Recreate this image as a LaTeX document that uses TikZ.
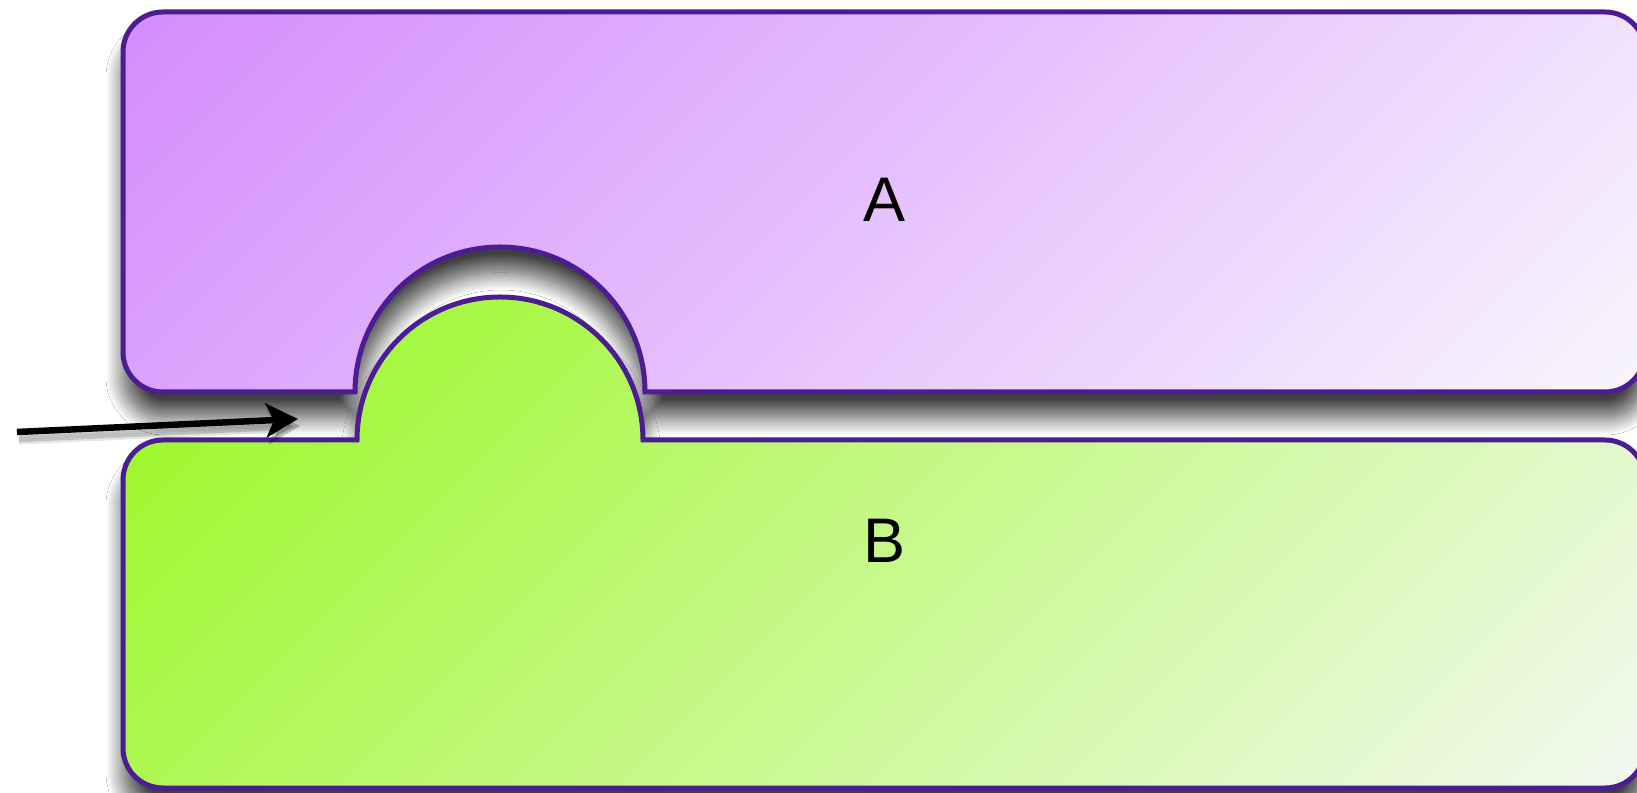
\documentclass[tikz,border=0pt]{standalone}
\usepackage{fontspec}
\setmainfont{Liberation Sans}
\usetikzlibrary{arrows.meta,shadows.blur}
\definecolor{strokec}{RGB}{76,28,146}
\definecolor{aA}{RGB}{212,140,253}
\definecolor{aB}{RGB}{248,246,253}
\definecolor{bA}{RGB}{152,248,30}
\definecolor{bB}{RGB}{243,249,242}
\tikzset{
  outline/.style={draw=strokec,line width=5pt},
  shadowed/.style={blur shadow={shadow xshift=1pt,shadow yshift=-25pt,shadow blur radius=18pt,shadow opacity=75,shadow blur steps=24}},
  lbl/.style={inner sep=0pt,font=\fontsize{63}{63}\selectfont},
  arr/.style={line width=6.5pt,-{Stealth[length=32pt,width=34pt,inset=8pt]}}
}
\def\pathA{(355,400) -- (163,400) arc[start angle=270,end angle=180,radius=40] -- (123,740) arc[start angle=180,end angle=90,radius=40] -- (1605,780) arc[start angle=90,end angle=0,radius=40] -- (1645,440) arc[start angle=0,end angle=-90,radius=40] -- (645,400) arc[start angle=0,end angle=180,radius=145] -- cycle}
\def\pathB{(163,352) -- (357,352) arc[start angle=180,end angle=0,radius=143] -- (1605,352) arc[start angle=90,end angle=0,radius=40] -- (1645,44) arc[start angle=0,end angle=-90,radius=40] -- (163,4) arc[start angle=270,end angle=180,radius=40] -- (123,312) arc[start angle=180,end angle=90,radius=40] -- cycle}
\begin{document}
\begin{tikzpicture}[x=1pt,y=1pt]
\fill[white] (0,0) rectangle (1637,792);
\useasboundingbox (0,0) rectangle (1637,792);
% shape A
\path[shadowed] \pathA;
\begin{scope}
  \clip \pathA;
  \begin{scope}[transform canvas={rotate around={-45:(884,590)}}]
    \shade[left color=aA,right color=aB] (211.5,-120) rectangle (1556.5,1300);
  \end{scope}
\end{scope}
\path[outline] \pathA;
% shape B
\path[shadowed] \pathB;
\begin{scope}
  \clip \pathB;
  \begin{scope}[transform canvas={rotate around={-45:(884,249.5)}}]
    \shade[left color=bA,right color=bB] (172.3,-500) rectangle (1595.7,1000);
  \end{scope}
\end{scope}
\path[outline] \pathB;
% labels
\node[lbl] (A) at (884,592) {A};
\node[lbl] (B) at (884,251) {B};
% arrow
\coordinate (tail) at (17,360);
\coordinate (tip) at (298,373);
\coordinate (stail) at (19,353);
\coordinate (stip) at (300,366);
\draw[arr,draw=black,fill=black,opacity=0.10,line width=11pt] (stail) -- (stip);
\draw[arr,draw=black,fill=black,opacity=0.15] (stail) -- (stip);
\draw[arr,draw=black,fill=black] (tail) -- (tip);
\end{tikzpicture}
\end{document}
